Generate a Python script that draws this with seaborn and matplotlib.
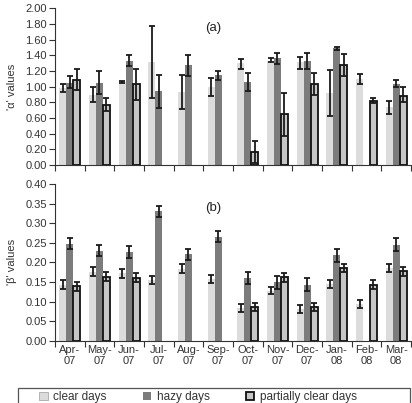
import matplotlib
matplotlib.use("Agg")
import matplotlib.pyplot as plt
from matplotlib.patches import Patch, Rectangle
from matplotlib.ticker import MultipleLocator, FormatStrFormatter
import numpy as np
import pandas as pd
import seaborn as sns

nan = np.nan
months = ["Apr-\n07", "May-\n07", "Jun-\n07", "Jul-\n07", "Aug-\n07", "Sep-\n07",
          "Oct-\n07", "Nov-\n07", "Dec-\n07", "Jan-\n08", "Feb-\n08", "Mar-\n08"]
conditions = ["clear days", "hazy days", "partially clear days"]

# 'alpha' values (mean, lower and upper end of error bar)
alpha_clear = [0.98, 0.89, 1.06, 1.32, 0.93, 1.00, 1.30, 1.33, 1.31, 0.92, 1.10, 0.74]
alpha_clear_lo = [0.93, 0.80, 1.05, 0.86, 0.72, 0.88, 1.23, 1.31, 1.23, 0.63, 1.04, 0.65]
alpha_clear_hi = [1.03, 0.99, 1.07, 1.78, 1.15, 1.11, 1.35, 1.36, 1.38, 1.21, 1.16, 0.82]
alpha_hazy = [1.05, 1.05, 1.33, 0.94, 1.27, 1.15, 1.06, 1.36, 1.33, 1.49, nan, 1.03]
alpha_hazy_lo = [0.98, 0.91, 1.26, 0.73, 1.13, 1.09, 0.95, 1.29, 1.22, 1.47, nan, 0.99]
alpha_hazy_hi = [1.13, 1.20, 1.41, 1.15, 1.40, 1.20, 1.17, 1.43, 1.43, 1.51, nan, 1.08]
alpha_part = [1.085, 0.77, 1.03, nan, nan, nan, 0.17, 0.65, 1.03, 1.28, 0.82, 0.885]
alpha_part_lo = [0.96, 0.69, 0.83, nan, nan, nan, 0.03, 0.37, 0.89, 1.14, 0.79, 0.80]
alpha_part_hi = [1.23, 0.85, 1.23, nan, nan, nan, 0.31, 0.92, 1.18, 1.42, 0.85, 0.99]

# 'beta' values
beta_clear = [0.142, 0.176, 0.172, 0.155, 0.183, 0.157, 0.083, 0.128, 0.081, 0.145, 0.094, 0.186]
beta_clear_lo = [0.132, 0.166, 0.161, 0.145, 0.173, 0.148, 0.072, 0.118, 0.071, 0.134, 0.084, 0.176]
beta_clear_hi = [0.155, 0.188, 0.183, 0.166, 0.195, 0.167, 0.094, 0.138, 0.092, 0.156, 0.104, 0.196]
beta_hazy = [0.248, 0.230, 0.227, 0.330, 0.221, 0.265, 0.160, 0.150, 0.143, 0.218, nan, 0.245]
beta_hazy_lo = [0.233, 0.215, 0.211, 0.316, 0.207, 0.251, 0.145, 0.132, 0.126, 0.202, nan, 0.230]
beta_hazy_hi = [0.263, 0.245, 0.243, 0.345, 0.235, 0.280, 0.176, 0.166, 0.159, 0.233, nan, 0.261]
beta_part = [0.139, 0.163, 0.161, nan, nan, nan, 0.086, 0.162, 0.086, 0.186, 0.143, 0.177]
beta_part_lo = [0.128, 0.152, 0.150, nan, nan, nan, 0.076, 0.151, 0.076, 0.175, 0.131, 0.166]
beta_part_hi = [0.150, 0.175, 0.173, nan, nan, nan, 0.097, 0.173, 0.097, 0.196, 0.156, 0.188]

colors = ["#dcdcdc", "#7c7c7c", "#c6c6c6"]


def make_df(vals, los, his):
    rows = []
    for cond, v, lo, hi in zip(conditions, vals, los, his):
        for i, m in enumerate(months):
            rows.append((m, i, cond, v[i], lo[i], hi[i]))
    df = pd.DataFrame(rows, columns=["month", "idx", "cond", "val", "lo", "hi"])
    return df.dropna()


df_a = make_df([alpha_clear, alpha_hazy, alpha_part],
               [alpha_clear_lo, alpha_hazy_lo, alpha_part_lo],
               [alpha_clear_hi, alpha_hazy_hi, alpha_part_hi])
df_b = make_df([beta_clear, beta_hazy, beta_part],
               [beta_clear_lo, beta_hazy_lo, beta_part_lo],
               [beta_clear_hi, beta_hazy_hi, beta_part_hi])

sns.set_style("white")
plt.rcParams["font.family"] = ["Liberation Sans", "DejaVu Sans"]

fig = plt.figure(figsize=(4.12, 4.03), dpi=100)
W, H = 412, 403
ax1 = fig.add_axes([55 / W, (H - 165) / H, 356 / W, 156.7 / H])
ax2 = fig.add_axes([55 / W, (H - 340.7) / H, 356 / W, 156.7 / H])


def draw(ax, df, ymax, step, label, tag, tagy, show_labels):
    sns.barplot(data=df, x="month", y="val", hue="cond", order=months,
                hue_order=conditions, palette=colors, width=0.7,
                errorbar=None, legend=False, saturation=1, ax=ax)
    for cont, cond in zip(ax.containers, conditions):
        sub = df[df["cond"] == cond].set_index("idx")
        for bar in cont:
            xc = bar.get_x() + bar.get_width() / 2
            i = int(round(xc))
            if i not in sub.index:
                continue
            r = sub.loc[i]
            if cond == "partially clear days":
                bar.set_edgecolor("#111111")
                bar.set_linewidth(1.3)
            else:
                bar.set_edgecolor("none")
            ax.errorbar(xc, r["val"], yerr=[[r["val"] - r["lo"]], [r["hi"] - r["val"]]],
                        fmt="none", ecolor="#1a1a1a", elinewidth=1.3,
                        capsize=2.1, capthick=1.3, zorder=5)
    ax.set_xlim(-0.5, len(months) - 0.5)
    ax.set_ylim(0, ymax)
    ax.yaxis.set_major_locator(MultipleLocator(step))
    ax.yaxis.set_major_formatter(FormatStrFormatter("%.2f"))
    ax.set_xticks(np.arange(-0.5, len(months), 1.0))
    ax.set_xticklabels([])
    ax.set_xticks(np.arange(len(months)), minor=True)
    if show_labels:
        ax.set_xticklabels(months, minor=True)
    ax.tick_params(axis="x", which="major", length=4, width=0.8, color="#333333",
                   direction="out", bottom=True)
    ax.tick_params(axis="x", which="minor", length=0, labelsize=8, colors="#333333", pad=3)
    ax.tick_params(axis="y", length=4, width=0.8, color="#333333", direction="out",
                   left=True, labelsize=8, labelcolor="#333333", pad=2)
    for s in ["top", "right"]:
        ax.spines[s].set_visible(False)
    for s in ["left", "bottom"]:
        ax.spines[s].set_color("#333333")
        ax.spines[s].set_linewidth(0.8)
    ax.set_xlabel("")
    ax.set_ylabel(label, fontsize=8, color="#333333", labelpad=6)
    ax.text(0.445, tagy, tag, transform=ax.transAxes, fontsize=9.5,
            color="#222222", ha="center", va="center")


draw(ax1, df_a, 2.0, 0.2, "'α' values", "(a)", 0.874, False)
draw(ax2, df_b, 0.4, 0.05, "'β' values", "(b)", 0.847, True)

# legend box
fig.patches.append(Rectangle((18 / W, -0.01), 392 / W, (H - 388) / H + 0.01,
                             transform=fig.transFigure, facecolor="white",
                             edgecolor="#555555", linewidth=0.9))
handles = [Patch(facecolor=colors[0], edgecolor="#aaaaaa", linewidth=0.6),
           Patch(facecolor=colors[1], edgecolor="none"),
           Patch(facecolor=colors[2], edgecolor="#111111", linewidth=1.3)]
fig.legend(handles, conditions, loc="center left",
           bbox_to_anchor=(39 / W, (H - 397) / H), ncol=3, frameon=False,
           fontsize=8.5, handlelength=0.75, handleheight=0.75, handletextpad=0.45,
           columnspacing=3.05, borderpad=0, borderaxespad=0, labelcolor="#333333")

fig.savefig("out.png", dpi=100)
